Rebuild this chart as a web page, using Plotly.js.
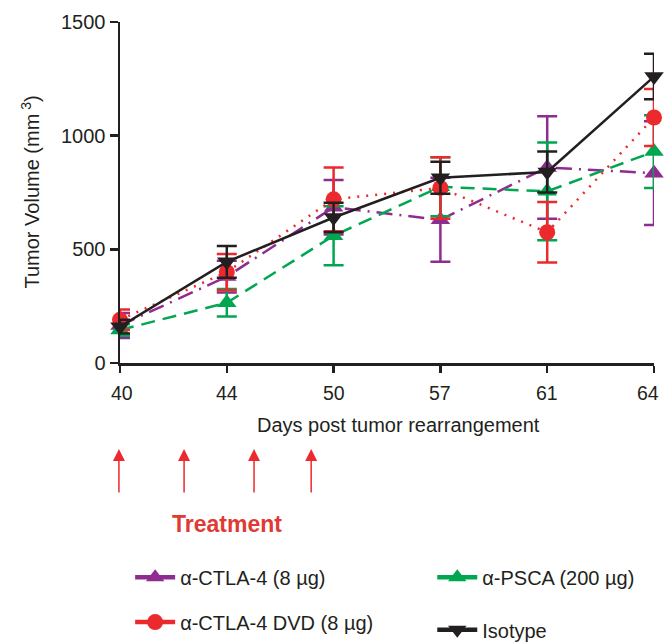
<!DOCTYPE html>
<html>
<head>
<meta charset="utf-8">
<script src="https://cdn.plot.ly/plotly-3.0.1.min.js"></script>
<style>html,body{margin:0;padding:0;background:#fff;}#chart{width:664px;height:642px;}</style>
</head>
<body>
<div id="chart"></div>
<script>
// ---- Data ----
const days = ['40', '44', '50', '57', '61', '64'];
const ctla4 = [165, 380, 685, 630, 860, 835];
const ctla4Err = [55, 70, 120, 185, 225, 228];
const dvd = [190, 400, 720, 770, 575, 1080];
const dvdErr = [45, 80, 140, 135, 133, 125];
const psca = [145, 265, 560, 775, 755, 930];
const pscaErr = [25, 60, 130, 130, 215, 160];
const iso = [160, 445, 640, 815, 840, 1260];
const isoErr = [30, 70, 65, 70, 90, 100];
const seriesNames = ['α-CTLA-4 (8 µg)', 'α-PSCA (200 µg)', 'α-CTLA-4 DVD (8 µg)', 'Isotype'];
const treatmentLabel = 'Treatment';
const xTitle = 'Days post tumor rearrangement';
const yTitle = 'Tumor Volume (mm<sup> 3</sup>)';

const PURPLE = '#8E2C90', RED = '#EC2A2D', GREEN = '#00A650', BLACK = '#231F20';
const FONT = 'Liberation Sans, Arial, Helvetica, sans-serif';

function mk(name, y, err, color, symbol, size, dash) {
  return {
    type: 'scatter', mode: 'lines+markers', name: name, x: days, y: y,
    showlegend: false,
    line: {color: color, width: 2.5, dash: dash},
    marker: {color: color, symbol: symbol, size: size},
    error_y: {type: 'data', array: err, visible: true, color: color, thickness: 2.5, width: 10},
    cliponaxis: false
  };
}
// legend-only entries (solid short line + marker, as in the reference key)
function key(name, color, symbol, size, legend) {
  return {
    type: 'scatter', mode: 'lines+markers', name: name, x: [null], y: [null],
    legend: legend, showlegend: true,
    line: {color: color, width: 4.5},
    marker: {color: color, symbol: symbol, size: size}
  };
}

const data = [
  mk(seriesNames[0], ctla4, ctla4Err, PURPLE, 'triangle-up', 17, '16px,7px,2px,7px'),
  mk(seriesNames[1], psca, pscaErr, GREEN, 'triangle-up', 17, '14px,8px'),
  mk(seriesNames[2], dvd, dvdErr, RED, 'circle', 16, '2px,7px'),
  mk(seriesNames[3], iso, isoErr, BLACK, 'triangle-down', 17, 'solid'),
  key(seriesNames[0], PURPLE, 'triangle-up', 17, 'legend'),
  key(seriesNames[2], RED, 'circle', 17, 'legend2'),
  key(seriesNames[1], GREEN, 'triangle-up', 17, 'legend3'),
  key(seriesNames[3], BLACK, 'triangle-down', 17, 'legend4')
];

// x tick labels placed on the category axis by category index (end labels nudged inward as in the reference)
const annotations = days.map((d, i) => ({
  xref: 'x', yref: 'paper', x: i, y: -0.088, text: d, showarrow: false,
  xanchor: 'center', yanchor: 'middle',
  xshift: i === 0 ? 2 : (i === days.length - 1 ? -6 : 0),
  font: {family: FONT, size: 19.5, color: BLACK}
}));

const arrowX = [-0.002, 0.12, 0.251, 0.358];
arrowX.forEach(x => annotations.push({
  xref: 'paper', yref: 'paper', x: x, y: -0.252, text: '', showarrow: true,
  ax: 0, ay: 45, arrowcolor: RED, arrowwidth: 1.5, arrowhead: 2, arrowsize: 1.6
}));
annotations.push({
  xref: 'paper', yref: 'paper', x: 0.2, y: -0.472, xanchor: 'center', yanchor: 'middle',
  text: '<b>' + treatmentLabel + '</b>',
  showarrow: false, font: {family: FONT, size: 23, color: '#E03A33'}
});
annotations.push({
  xref: 'paper', yref: 'paper', x: 0.522, y: -0.182, xanchor: 'center', yanchor: 'middle',
  text: xTitle, showarrow: false, font: {family: FONT, size: 20, color: BLACK}
});
annotations.push({
  xref: 'paper', yref: 'paper', x: -0.1685, y: 0.5, xanchor: 'center', yanchor: 'middle',
  text: yTitle, textangle: -90, showarrow: false, font: {family: FONT, size: 20, color: BLACK}
});

const legBase = {font: {family: FONT, size: 20, color: BLACK}, bgcolor: 'rgba(0,0,0,0)',
  xref: 'container', yref: 'container', xanchor: 'left', yanchor: 'middle', itemwidth: 40};

const layout = {
  width: 664, height: 642,
  margin: {l: 120, r: 10, t: 22, b: 279, autoexpand: false},
  paper_bgcolor: '#fff', plot_bgcolor: '#fff',
  font: {family: FONT, size: 20, color: BLACK},
  xaxis: {
    type: 'category', range: [0, 5], showgrid: false, zeroline: false,
    showline: true, linecolor: BLACK, linewidth: 2.5,
    ticks: 'outside', ticklen: 7, tickwidth: 2.5, tickcolor: BLACK,
    showticklabels: false
  },
  yaxis: {
    range: [0, 1500], tickvals: [0, 500, 1000, 1500], showgrid: false, zeroline: false,
    showline: true, linecolor: BLACK, linewidth: 2.5,
    ticks: 'outside', ticklen: 8, tickwidth: 2.5, tickcolor: BLACK,
    tickfont: {family: FONT, size: 20, color: BLACK}
  },
  showlegend: true,
  legend: Object.assign({}, legBase, {x: 0.196, y: 0.101}),
  legend2: Object.assign({}, legBase, {x: 0.196, y: 0.031}),
  legend3: Object.assign({}, legBase, {x: 0.651, y: 0.101}),
  legend4: Object.assign({}, legBase, {x: 0.651, y: 0.019}),
  annotations: annotations
};

Plotly.newPlot('chart', data, layout, {displayModeBar: false, staticPlot: true});
</script>
</body>
</html>
